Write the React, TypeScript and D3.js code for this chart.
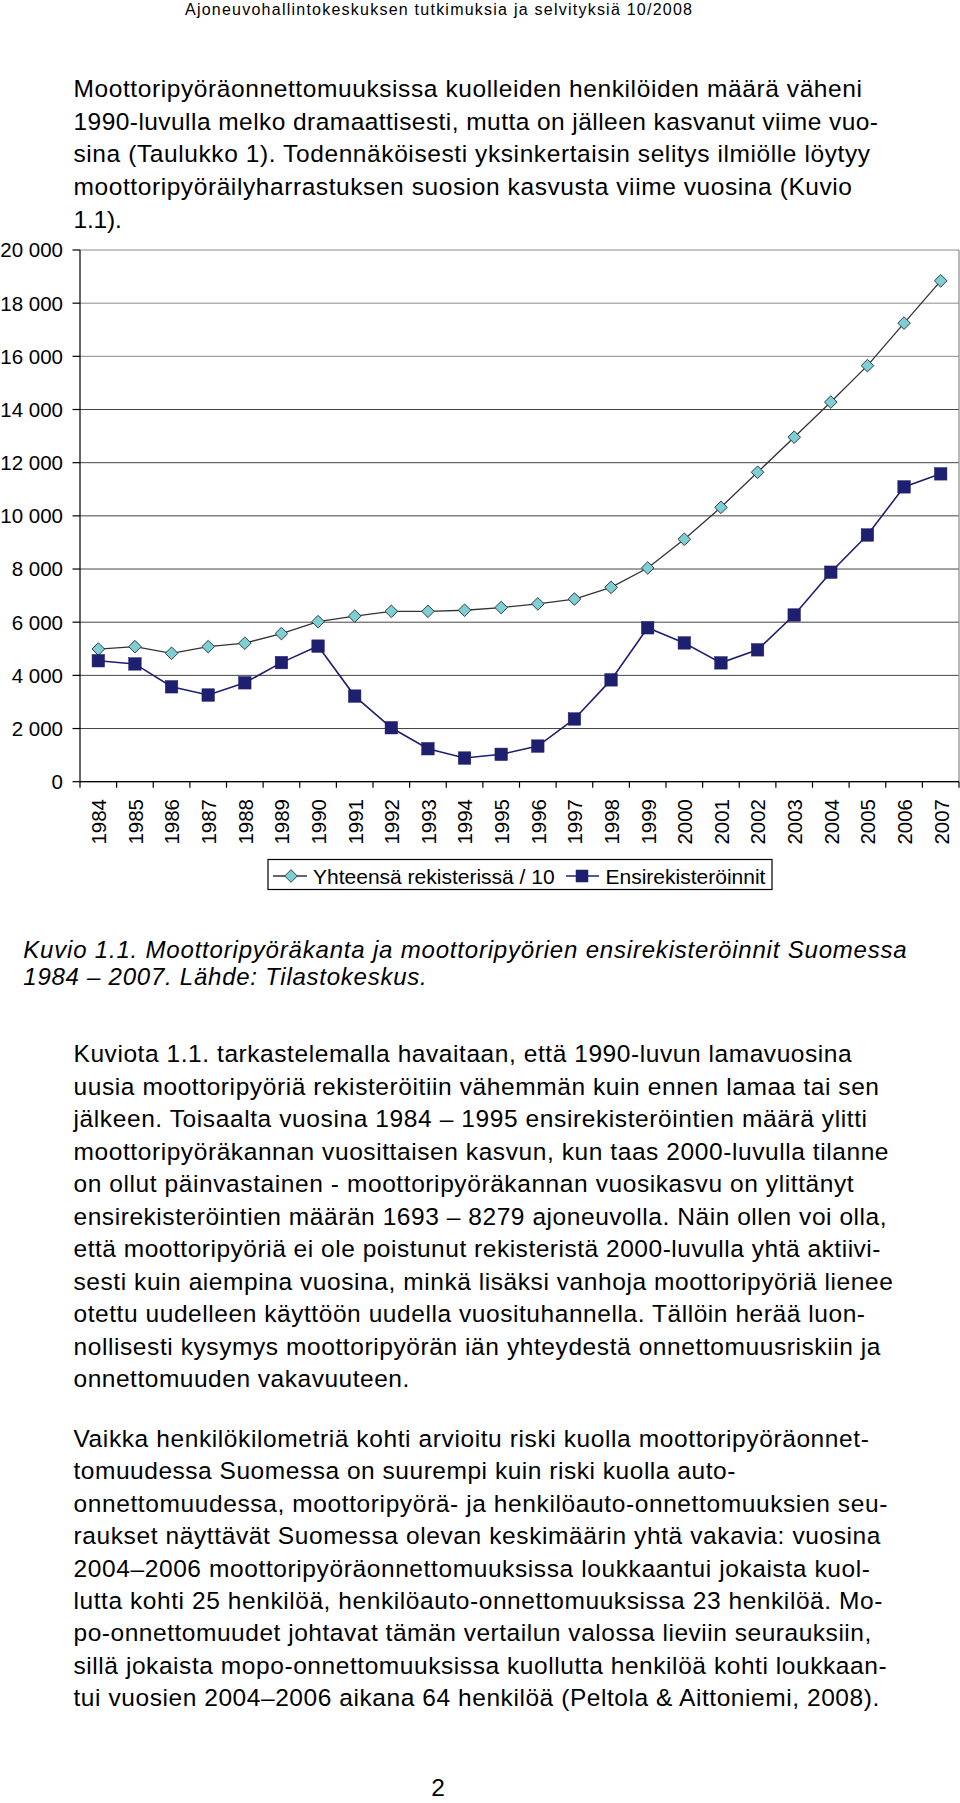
import React from 'react';
import * as d3 from 'd3';

// ---------- data ----------
const years = ['1984', '1985', '1986', '1987', '1988', '1989', '1990', '1991', '1992', '1993', '1994', '1995',
  '1996', '1997', '1998', '1999', '2000', '2001', '2002', '2003', '2004', '2005', '2006', '2007'];
const totalRegisteredPer10 = [4990, 5080, 4830, 5080, 5210, 5570, 6020, 6230, 6410, 6410, 6450, 6550,
  6690, 6870, 7310, 8040, 9120, 10320, 11640, 12960, 14280, 15650, 17250, 18840];
const firstRegistrations = [4550, 4430, 3570, 3260, 3720, 4480, 5100, 3220, 2030, 1240, 890, 1030,
  1340, 2360, 3830, 5790, 5220, 4470, 4960, 6270, 7880, 9280, 11090, 11580];
const yTickValues = [0, 2000, 4000, 6000, 8000, 10000, 12000, 14000, 16000, 18000, 20000];
const yTickLabels = ['0', '2 000', '4 000', '6 000', '8 000', '10 000', '12 000', '14 000', '16 000', '18 000', '20 000'];
const seriesNames = ['Yhteensä rekisterissä / 10', 'Ensirekisteröinnit'];

const headerText = 'Ajoneuvohallintokeskuksen tutkimuksia ja selvityksiä 10/2008';
const paragraph1 = [
  'Moottoripyöräonnettomuuksissa kuolleiden henkilöiden määrä väheni',
  '1990-luvulla melko dramaattisesti, mutta on jälleen kasvanut viime vuo-',
  'sina (Taulukko 1). Todennäköisesti yksinkertaisin selitys ilmiölle löytyy',
  'moottoripyöräilyharrastuksen suosion kasvusta viime vuosina (Kuvio',
  '1.1).',
];
const captionLines = [
  'Kuvio 1.1. Moottoripyöräkanta ja moottoripyörien ensirekisteröinnit Suomessa',
  '1984 – 2007. Lähde: Tilastokeskus.',
];
const paragraph2 = [
  'Kuviota 1.1. tarkastelemalla havaitaan, että 1990-luvun lamavuosina',
  'uusia moottoripyöriä rekisteröitiin vähemmän kuin ennen lamaa tai sen',
  'jälkeen. Toisaalta vuosina 1984 – 1995 ensirekisteröintien määrä ylitti',
  'moottoripyöräkannan vuosittaisen kasvun, kun taas 2000-luvulla tilanne',
  'on ollut päinvastainen - moottoripyöräkannan vuosikasvu on ylittänyt',
  'ensirekisteröintien määrän 1693 – 8279 ajoneuvolla. Näin ollen voi olla,',
  'että moottoripyöriä ei ole poistunut rekisteristä 2000-luvulla yhtä aktiivi-',
  'sesti kuin aiempina vuosina, minkä lisäksi vanhoja moottoripyöriä lienee',
  'otettu uudelleen käyttöön uudella vuosituhannella. Tällöin herää luon-',
  'nollisesti kysymys moottoripyörän iän yhteydestä onnettomuusriskiin ja',
  'onnettomuuden vakavuuteen.',
];
const paragraph3 = [
  'Vaikka henkilökilometriä kohti arvioitu riski kuolla moottoripyöräonnet-',
  'tomuudessa Suomessa on suurempi kuin riski kuolla auto-',
  'onnettomuudessa, moottoripyörä- ja henkilöauto-onnettomuuksien seu-',
  'raukset näyttävät Suomessa olevan keskimäärin yhtä vakavia: vuosina',
  '2004–2006 moottoripyöräonnettomuuksissa loukkaantui jokaista kuol-',
  'lutta kohti 25 henkilöä, henkilöauto-onnettomuuksissa 23 henkilöä. Mo-',
  'po-onnettomuudet johtavat tämän vertailun valossa lieviin seurauksiin,',
  'sillä jokaista mopo-onnettomuuksissa kuollutta henkilöä kohti loukkaan-',
  'tui vuosien 2004–2006 aikana 64 henkilöä (Peltola & Aittoniemi, 2008).',
];
const pageNumber = '2';

// ---------- layout (line end positions measured from the page) ----------
const P1_ENDS = [862, 878, 870, 852, 121.7];
const CAP_ENDS = [906.7, 426.7];
const P2_ENDS = [851.7, 879, 867, 888.5, 853.6, 886.6, 880.5, 892.8, 865, 880.5, 409.3];
const P3_ENDS = [868.9, 735.3, 887.3, 880.5, 870, 882.4, 871.3, 886.6, 879.3];

const FONT = '"Liberation Sans", Arial, Helvetica, sans-serif';

function TextBlock({ lines, ends, x, y0, step, size, italic }: any) {
  return (
    <g fontFamily={FONT} fontSize={size} fontStyle={italic ? 'italic' : 'normal'} fill="#000">
      {lines.map((t: string, i: number) => (
        <text key={i} x={x} y={y0 + i * step} textLength={ends[i] - x} lengthAdjust="spacing">{t}</text>
      ))}
    </g>
  );
}

export default function App() {
  const W = 960, H = 1803;
  const left = 80, right = 959, top = 250, bottom = 781.7;

  const x = d3.scaleBand<string>().domain(years).range([left, right]).padding(0);
  const y = d3.scaleLinear().domain([0, 20000]).range([bottom, top]);
  const cx = (yr: string) => (x(yr) as number) + x.bandwidth() / 2;

  const lineGen = d3.line<number>()
    .x((_, i) => cx(years[i]))
    .y((d) => y(d));

  const diamond = (px: number, py: number, r: number) =>
    `M${px},${py - r}L${px + r},${py}L${px},${py + r}L${px - r},${py}Z`;

  const dR = 6.3;
  const sq = 12.5;
  const navy = '#1f1f6f';
  const teal = '#7dcfd3';

  return (
    <svg width={W} height={H} viewBox={`0 0 ${W} ${H}`}
      style={{ position: 'absolute', left: 0, top: 0, background: '#fff', display: 'block' }}>
      <rect x={0} y={0} width={W} height={H} fill="#fff" />

      {/* header */}
      <text x={185} y={15} fontFamily={FONT} fontSize={16} textLength={507} lengthAdjust="spacing">{headerText}</text>

      {/* paragraph 1 */}
      <TextBlock lines={paragraph1} ends={P1_ENDS} x={73.5} y0={97} step={32.7} size={24.5} />

      {/* chart: gridlines */}
      <g>
        {yTickValues.map((v) => (
          <line key={v} x1={left} x2={right} y1={y(v)} y2={y(v)}
            stroke={v >= 16000 ? '#8a8a8a' : '#444'} strokeWidth={1} />
        ))}
        <line x1={right} x2={right} y1={top} y2={bottom} stroke="#8a8a8a" strokeWidth={1.2} />
      </g>

      {/* y axis */}
      <g fontFamily={FONT} fontSize={20.5} fill="#000">
        <line x1={left} x2={left} y1={top} y2={bottom + 6} stroke="#000" strokeWidth={1.2} />
        {yTickValues.map((v, i) => (
          <g key={v}>
            <line x1={left - 7.5} x2={left} y1={y(v)} y2={y(v)} stroke="#000" strokeWidth={1.2} />
            <text x={63} y={y(v)} dy="0.36em" textAnchor="end">{yTickLabels[i]}</text>
          </g>
        ))}
      </g>

      {/* x axis */}
      <g fontFamily={FONT} fontSize={20.5} fill="#000">
        <line x1={left} x2={right} y1={bottom} y2={bottom} stroke="#000" strokeWidth={1.2} />
        {years.map((yr) => (
          <line key={'t' + yr} x1={(x(yr) as number) + x.bandwidth()} x2={(x(yr) as number) + x.bandwidth()}
            y1={bottom} y2={bottom + 6} stroke="#000" strokeWidth={1.2} />
        ))}
        {years.map((yr) => (
          <text key={yr} transform={`translate(${cx(yr) + 0.5},799) rotate(-90)`} textAnchor="end" dy="0.36em">{yr}</text>
        ))}
      </g>

      {/* series lines */}
      <path d={lineGen(totalRegisteredPer10) || ''} fill="none" stroke="#333" strokeWidth={1.3} />
      <path d={lineGen(firstRegistrations) || ''} fill="none" stroke={navy} strokeWidth={1.6} />

      {/* markers */}
      {totalRegisteredPer10.map((v, i) => (
        <path key={'d' + i} d={diamond(cx(years[i]), y(v), dR)} fill={teal} stroke="#2f3f48" strokeWidth={1} />
      ))}
      {firstRegistrations.map((v, i) => (
        <rect key={'s' + i} x={cx(years[i]) - sq / 2} y={y(v) - sq / 2} width={sq} height={sq} fill={navy} stroke={navy} strokeWidth={0.5} />
      ))}

      {/* legend */}
      <g fontFamily={FONT} fontSize={21} fill="#000">
        <rect x={268} y={859.5} width={504} height={30} fill="#fff" stroke="#000" strokeWidth={1.2} />
        <line x1={273} x2={307} y1={876} y2={876} stroke="#333" strokeWidth={1.3} />
        <path d={diamond(291, 876, dR)} fill={teal} stroke="#2f3f48" strokeWidth={1} />
        <text x={313} y={883.5}>{seriesNames[0]}</text>
        <line x1={566} x2={599} y1={876} y2={876} stroke={navy} strokeWidth={1.6} />
        <rect x={582 - sq / 2} y={876 - sq / 2} width={sq} height={sq} fill={navy} />
        <text x={605.5} y={883.5}>{seriesNames[1]}</text>
      </g>

      {/* caption */}
      <TextBlock lines={captionLines} ends={CAP_ENDS} x={23.3} y0={957.5} step={27.7} size={24} italic />

      {/* paragraph 2 */}
      <TextBlock lines={paragraph2} ends={P2_ENDS} x={73.5} y0={1062} step={32.5} size={24.5} />

      {/* paragraph 3 */}
      <TextBlock lines={paragraph3} ends={P3_ENDS} x={73.5} y0={1447} step={32.4} size={24.5} />

      {/* page number */}
      <text x={438} y={1796} textAnchor="middle" fontFamily={FONT} fontSize={24.5}>{pageNumber}</text>
    </svg>
  );
}
